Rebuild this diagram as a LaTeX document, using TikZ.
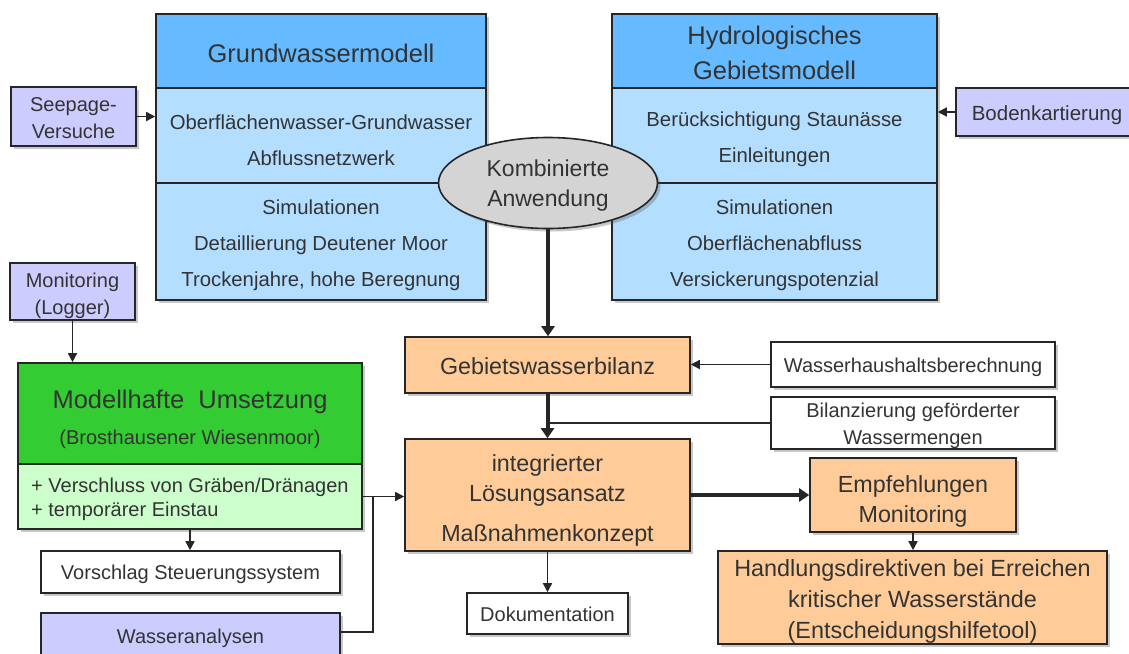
\documentclass[tikz,border=0pt]{standalone}
\usepackage{fontspec}
\setmainfont{Liberation Sans}
\usetikzlibrary{arrows.meta,shadows,calc,shapes.geometric}
\definecolor{hdrblue}{HTML}{66BAFF}
\definecolor{lblue}{HTML}{B4DEFF}
\definecolor{lav}{HTML}{CCCCFF}
\definecolor{orng}{HTML}{FFCC99}
\definecolor{grn}{HTML}{33CC33}
\definecolor{lgrn}{HTML}{CCFFCC}
\definecolor{ellg}{HTML}{D4D4D4}
\definecolor{txt}{HTML}{333333}
\definecolor{linec}{HTML}{262626}
\begin{document}
\begin{tikzpicture}[x=1pt,y=-1pt,
  box/.style={draw=linec, line width=1.6pt, inner sep=0pt,
    drop shadow={shadow xshift=3pt, shadow yshift=-3pt, opacity=0.3, fill=black!70}},
  label/.style={inner sep=0pt, text=txt, align=center},
  thin/.style={draw=linec, line width=1.5pt},
  arr/.style={thin, -{Triangle[length=9pt,width=9pt]}},
  thick/.style={draw=linec, line width=4pt, -{Triangle[length=10pt,width=13pt]}},
  fB/.style={font=\fontsize{20.3}{36}\selectfont},
  fS/.style={font=\fontsize{20}{27}\selectfont},
  fT/.style={font=\fontsize{25.5}{35}\selectfont},
  fO/.style={font=\fontsize{23.3}{30}\selectfont}
]
\clip (0,0) rectangle (1129,653);
\fill[white] (0,0) rectangle (1129,653);

% Grundwassermodell
\node[box, fill=hdrblue, minimum width=330pt, minimum height=74pt] (gwh) at (321,51) {};
\node[box, fill=lblue, minimum width=330pt, minimum height=95pt] (gwm) at (321,135.5) {};
\node[box, fill=lblue, minimum width=330pt, minimum height=117pt] (gwb) at (321,241.5) {};
\node[label, fT] (gwht) at (321,53) {Grundwassermodell};
\node[label, fB] (gwmt) at (321,140) {Oberflächenwasser-Grundwasser\\Abflussnetzwerk};
\node[label, fB] (gwbt) at (321,245) {Simulationen\\Detaillierung Deutener Moor\\Trockenjahre, hohe Beregnung};

% Hydrologisches Gebietsmodell
\node[box, fill=hdrblue, minimum width=325pt, minimum height=74pt] (hyh) at (774.5,51) {};
\node[box, fill=lblue, minimum width=325pt, minimum height=95pt] (hym) at (774.5,135.5) {};
\node[box, fill=lblue, minimum width=325pt, minimum height=117pt] (hyb) at (774.5,241.5) {};
\node[label, fT] (hyht) at (774.5,52.5) {Hydrologisches\\Gebietsmodell};
\node[label, fB] (hymt) at (774.5,139) {Berücksichtigung Staunässe\\Einleitungen};
\node[label, fB] (hybt) at (774.5,245) {Simulationen\\Oberflächenabfluss\\Versickerungspotenzial};

% Ellipse
\node[box, ellipse, fill=ellg, minimum width=219pt, minimum height=91pt] (kombi) at (548,183) {};
\node[label, font=\fontsize{23}{30}\selectfont] (kombit) at (548,186) {Kombinierte\\Anwendung};

% side inputs
\node[box, fill=lav, minimum width=125pt, minimum height=59pt] (seep) at (73.5,116.5) {};
\node[label, fS] (seept) at (73.5,118.5) {Seepage-\\Versuche};
\node[box, fill=lav, minimum width=125pt, minimum height=57pt] (mon) at (72.5,291.5) {};
\node[label, fS] (mont) at (72.5,295.5) {Monitoring\\(Logger)};
\node[box, fill=lav, minimum width=182pt, minimum height=48pt] (boden) at (1047,112) {};
\node[label, font=\fontsize{20.5}{24}\selectfont] (bodent) at (1047,115) {Bodenkartierung};

% Modellhafte Umsetzung
\node[box, fill=grn, minimum width=344pt, minimum height=101pt] (modh) at (190,413.5) {};
\node[label, font=\fontsize{25.5}{30}\selectfont] (modt) at (190,402) {Modellhafte\ \ Umsetzung};
\node[label, font=\fontsize{20}{24}\selectfont] (mods) at (190,439) {(Brosthausener Wiesenmoor)};
\node[box, fill=lgrn, minimum width=344pt, minimum height=65pt] (modl) at (190,496.5) {};
\node[label, anchor=west, align=left, font=\fontsize{20}{24}\selectfont] (modx) at (31,499) {+ Verschluss von Gräben/Dränagen\\+ temporärer Einstau};

\node[box, fill=white, minimum width=299pt, minimum height=42pt] (vor) at (190.5,572) {};
\node[label, fS] (vort) at (190.5,574) {Vorschlag Steuerungssystem};
\node[box, fill=lav, minimum width=299pt, minimum height=52pt] (wass) at (190.5,639) {};
\node[label, fS] (wasst) at (190.5,638) {Wasseranalysen};

% center column
\node[box, fill=orng, minimum width=285pt, minimum height=56pt] (gbil) at (547.5,365) {};
\node[label, fO] (gbilt) at (547.5,366) {Gebietswasserbilanz};
\node[box, fill=white, minimum width=284pt, minimum height=45pt] (whb) at (913,364.5) {};
\node[label, fS] (whbt) at (913,367.5) {Wasserhaushaltsberechnung};
\node[box, fill=white, minimum width=284pt, minimum height=52pt] (bil) at (913,423) {};
\node[label, fS] (bilt) at (913,426) {Bilanzierung geförderter\\Wassermengen};
\node[box, fill=orng, minimum width=285pt, minimum height=112pt] (integ) at (547.5,495) {};
\node[label, fO] (integt) at (547.5,500) {integrierter\\Lösungsansatz\\[10pt]Maßnahmenkonzept};
\node[box, fill=orng, minimum width=206pt, minimum height=74pt] (empf) at (913,495) {};
\node[label, fO] (empft) at (913,501) {Empfehlungen\\Monitoring};
\node[box, fill=orng, minimum width=389pt, minimum height=93pt] (hand) at (912.5,597.5) {};
\node[label, font=\fontsize{23.4}{31}\selectfont] (handt) at (912.5,601.5) {Handlungsdirektiven bei Erreichen\\kritischer Wasserstände\\(Entscheidungshilfetool)};
\node[box, fill=white, minimum width=161pt, minimum height=41pt] (doku) at (547.5,613.5) {};
\node[label, fS] (dokut) at (547.5,614.5) {Dokumentation};

% connectors
\draw[arr] (seep.east) -- (seep.east -| gwm.west);
\draw[arr] (boden.west) -- (boden.west -| hym.east);
\draw[arr] (mon.south) -- (mon.south |- modh.north);
\draw[thick] (kombi.south) -- (kombi.south |- gbil.north);
\draw[arr] (whb.west) -- (whb.west -| gbil.east);
\draw[thick] (gbil.south) -- (integ.north);
\draw[thin] (bil.west) -- (bil.west -| gbil.south);
\draw[thick] (integ.east) -- (integ.east -| empf.west);
\draw[arr] (empf.south) -- (empf.south |- hand.north);
\draw[arr] (integ.south) -- (doku.north);
\draw[arr] (modl.south) -- (modl.south |- vor.north);
\draw[arr] (modl.east) -- (modl.east -| integ.west);
\coordinate (junc) at ($(modl.east)+(10,0)$);
\draw[thin] ($(wass.north east)+(0,20)$) -| (junc);
\end{tikzpicture}
\end{document}
